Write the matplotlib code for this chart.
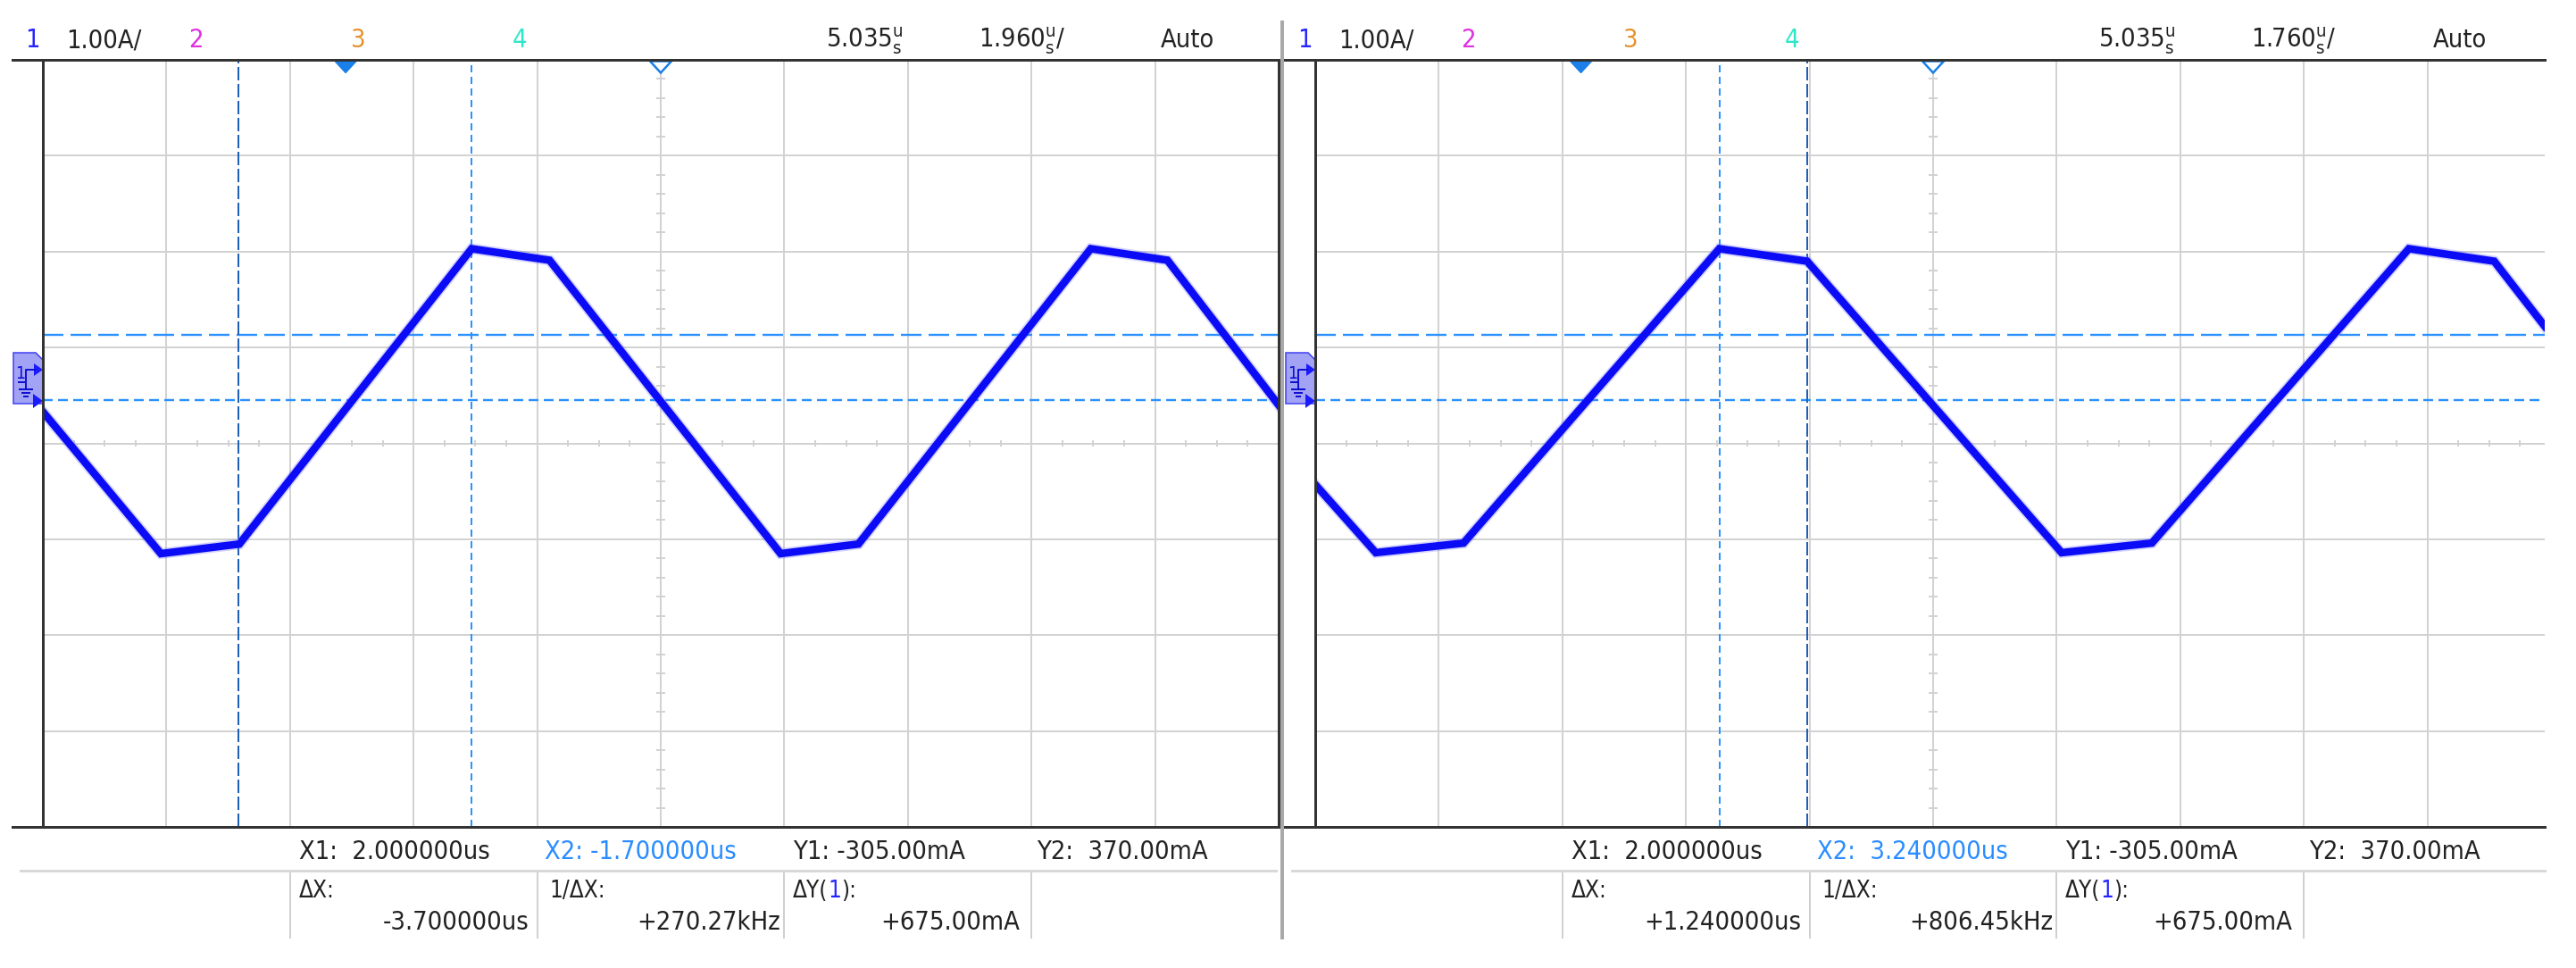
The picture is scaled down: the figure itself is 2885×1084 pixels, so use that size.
import matplotlib
matplotlib.use("Agg")
import matplotlib.pyplot as plt
from matplotlib import font_manager
from matplotlib.lines import Line2D
from matplotlib.patches import Polygon

# ===== data: channel 1 current, in screen divisions (1.00 A/div) =====
t_left = [0.0, 0.955, 1.59, 3.47, 4.10, 5.97, 6.60, 8.48, 9.10, 10.0]
i_left = [0.33, -1.15, -1.05, 2.03, 1.91, -1.15, -1.05, 2.03, 1.91, 0.40]
t_right = [0.0, 0.49, 1.20, 3.27, 3.98, 6.04, 6.77, 8.85, 9.54, 9.95]
i_right = [-0.43, -1.14, -1.04, 2.03, 1.90, -1.14, -1.04, 2.03, 1.90, 1.22]

# cursors (divisions)
x1_cursor = [3.47, 3.27]
x2_cursor = [1.58, 3.98]
y_cursors = [1.13, 0.45]      # Y2, Y1
trig_pos = [2.45, 2.15]
center_mark = 5.0

# ===== texts =====
scale_txt = '1.00A/'
delay_txt = '5.035'
timebase_txt = ['1.960', '1.760']
x1_txt = ['X1:  2.000000us', 'X1:  2.000000us']
x2_txt = ['X2: -1.700000us', 'X2:  3.240000us']
y1_txt = 'Y1: -305.00mA'
y2_txt = 'Y2:  370.00mA'
dx_txt = ['-3.700000us', '+1.240000us']
inv_dx_txt = ['+270.27kHz', '+806.45kHz']
dy_txt = '+675.00mA'

# ===== layout (pixels) =====
W, H, DPI = 2885, 1084, 100
DIV_X, DIV_Y = 138.4, 107.4
TOP, BOT = 67, 926
PANEL_X0 = [48, 1473]
PANEL_W = [1384, 1377]
OFF = [0, 1425]

TXT = '#222222'
GRID = '#d2d2d2'
BORDER = '#333333'
TRACE = '#0b0bf5'
CUR_LIGHT = '#2b92ff'
CUR_DARK = '#1f5fb5'
MARK = '#1a7fe8'

# narrow font if there is one, otherwise a smaller regular one
fonts = {(f.name, f.stretch) for f in font_manager.fontManager.ttflist}
if any(n == 'Liberation Sans Narrow' for n, s in fonts):
    FAM, STRETCH, K = 'Liberation Sans Narrow', 'normal', 1.0
elif ('DejaVu Sans', 'condensed') in fonts:
    FAM, STRETCH, K = 'DejaVu Sans', 'condensed', 0.80
else:
    FAM, STRETCH, K = 'Liberation Sans', 'normal', 0.82
BASE = 26 * K

plt.rcParams['font.family'] = [FAM, 'DejaVu Sans']
plt.rcParams['font.stretch'] = STRETCH
plt.rcParams['mathtext.fontset'] = 'custom'
plt.rcParams['mathtext.rm'] = FAM
plt.rcParams['mathtext.it'] = FAM
plt.rcParams['lines.scale_dashes'] = False

fig = plt.figure(figsize=(W / DPI, H / DPI), dpi=DPI)
fig.patch.set_facecolor('white')
renderer = fig.canvas.get_renderer()


def fx(px):
    return px / W


def fy(py):
    return 1 - py / H


def pt(px):
    return px * 72 / DPI


def fig_line(xs, ys, color, lw, **kw):
    fig.add_artist(Line2D([fx(x) for x in xs], [fy(y) for y in ys],
                          transform=fig.transFigure, color=color, lw=pt(lw), **kw))


def fig_text(x, y, s, size=None, color=TXT, ha='left'):
    return fig.text(fx(x), fy(y), s, fontsize=size or BASE, color=color, ha=ha,
                    va='baseline')


def end_x(t):
    return t.get_window_extent(renderer).x1


def gnd_marker(off):
    box = [(15, 395), (40, 395), (48, 403), (48, 452), (15, 452)]
    fig.add_artist(Polygon([(fx(x + off), fy(y)) for x, y in box], closed=True,
                           transform=fig.transFigure, facecolor='#a3a3f6',
                           edgecolor='#3c3cf0', lw=pt(1.5)))
    fig_text(17 + off, 424, '1', size=14, color='#1010d0')
    fig_line([21 + off, 29 + off, 29 + off, 39 + off], [428, 428, 414, 414], '#1010d0', 2)
    fig_line([29 + off, 29 + off], [428, 435], '#1010d0', 2)
    fig_line([22 + off, 36 + off], [436, 436], '#1010d0', 2)
    fig_line([25 + off, 33 + off], [440, 440], '#1010d0', 2)
    fig_line([27 + off, 31 + off], [444, 444], '#1010d0', 2)
    for tri in ([(38, 407), (48, 414), (38, 421)], [(37, 441), (48, 449), (37, 457)]):
        fig.add_artist(Polygon([(fx(x + off), fy(y)) for x, y in tri], closed=True,
                               transform=fig.transFigure, facecolor='#1a1aff',
                               edgecolor='none'))


UNIT = r'$^{\mathregular{u}}_{\mathregular{s}}$'
traces = [(t_left, i_left), (t_right, i_right)]

for p in range(2):
    x0, w, off = PANEL_X0[p], PANEL_W[p], OFF[p]
    ax = fig.add_axes([fx(x0), fy(BOT), w / W, (BOT - TOP) / H])
    xmax = w / DIV_X
    ax.set_xlim(0, xmax)
    ax.set_ylim(-4, 4)
    ax.axis('off')

    # graticule
    for k in range(1, 10):
        ax.axvline(k, color=GRID, lw=pt(2), zorder=1)
    for k in range(-3, 4):
        ax.axhline(k, color=GRID, lw=pt(2), zorder=1)
    dy = 4 / DIV_Y
    xs = [k / 4 for k in range(1, int(xmax * 4) + 1) if k % 4]
    ax.vlines(xs, -dy, dy, color=GRID, lw=pt(2), zorder=1)
    dx = 5 / DIV_X
    ys = [k / 5 for k in range(-19, 20) if k % 5]
    ax.hlines(ys, center_mark - dx, center_mark + dx, color=GRID, lw=pt(2), zorder=1)

    # cursors
    ax.axhline(y_cursors[0], color=CUR_LIGHT, lw=pt(2.4), dashes=(pt(23), pt(8)), zorder=2)
    ax.axhline(y_cursors[1], color=CUR_LIGHT, lw=pt(2.4), dashes=(pt(11), pt(6)), zorder=2)
    ax.axvline(x1_cursor[p], color=CUR_LIGHT, lw=pt(2), dashes=(pt(8), pt(5)), zorder=2)
    ax.axvline(x2_cursor[p], color=CUR_DARK, lw=pt(2), dashes=(pt(15), pt(4)), zorder=2)

    # trace
    t, i = traces[p]
    ax.plot(t, i, color='#7070ff', lw=pt(12), alpha=0.3, solid_joinstyle='miter', zorder=3)
    ax.plot(t, i, color=TRACE, lw=pt(8.5), solid_joinstyle='miter', zorder=4)

    # top markers
    hw, hh = 12 / DIV_X, 13 / DIV_Y
    ytop = 4 - 1.5 / DIV_Y
    tx = trig_pos[p]
    ax.fill([tx - hw, tx + hw, tx], [ytop, ytop, ytop - hh], color=MARK,
            clip_on=False, zorder=5)
    ax.fill([center_mark - hw, center_mark + hw, center_mark], [ytop, ytop, ytop - hh],
            facecolor='white', edgecolor=MARK, lw=pt(2.5), clip_on=False, zorder=5)

    # frame
    fl, fr = (14, 1432) if p == 0 else (1437, 2850)
    fig_line([fl, fr], [TOP, TOP], BORDER, 3)
    fig_line([fl, fr], [BOT, BOT], BORDER, 3)
    fig_line([x0, x0], [TOP, BOT], BORDER, 3)
    if p == 0:
        fig_line([1432, 1432], [TOP, BOT], BORDER, 3)

    gnd_marker(off)

    # header
    hy = 53
    fig_text(28 + off, hy, '1', color='#2424ff')
    fig_text(74 + off, hy, scale_txt)
    fig_text(211 + off, hy, '2', color='#e030e0')
    fig_text(393 + off, hy, '3', color='#e4912c')
    fig_text(574 + off, hy, '4', color='#2de6c8')
    fig_text(925 + off, hy, delay_txt + UNIT)
    fig_text(1096 + off, hy, timebase_txt[p] + UNIT + '/')
    fig_text(1300 + off, hy, 'Auto')

    # readout
    sl, sr = (23, 1429) if p == 0 else (1447, 2850)
    fig_line([sl, sr], [975, 975], '#d8d8d8', 3)
    for k in (2, 4, 6, 8):
        xv = 48 + off + k * DIV_X
        fig_line([xv, xv], [978, 1050], '#d0d0d0', 2)

    r1 = 962
    fig_text(335 + off, r1, x1_txt[p])
    fig_text(610 + off, r1, x2_txt[p], color='#2a8cff')
    fig_text(888 + off, r1, y1_txt)
    fig_text(1161 + off, r1, y2_txt)

    r2 = 1005
    small = BASE * 0.9
    fig_text(335 + off, r2, 'ΔX:', size=small)
    fig_text(615 + off, r2, '1/ΔX:', size=small)
    a = fig_text(888 + off, r2, 'ΔY(', size=small)
    b = fig_text(end_x(a), r2, '1', size=small, color='#2424ff')
    fig_text(end_x(b), r2, '):', size=small)

    r3 = 1041
    fig_text(592 + off, r3, dx_txt[p], ha='right')
    fig_text(874 + off, r3, inv_dx_txt[p], ha='right')
    fig_text(1142 + off, r3, dy_txt, ha='right')

# separator between the two screens
fig_line([1436, 1436], [25, 1050], '#a9a9a9', 4)

fig.savefig('out.png', dpi=DPI, facecolor='white')
